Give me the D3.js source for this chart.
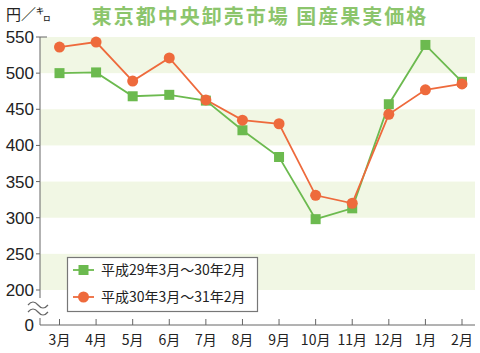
<!DOCTYPE html>
<html lang="ja">
<head>
<meta charset="UTF-8">
<title>東京都中央卸売市場 国産果実価格</title>
<script src="https://d3js.org/d3.v7.min.js"></script>
<style>
  body { margin: 0; background: #fff; }
  svg text { font-family: "Noto Sans CJK JP", "Noto Sans", sans-serif; }
  .num { font-family: "Liberation Sans", Arial, sans-serif; }
</style>
</head>
<body>
<div id="chart"></div>
<script>
// data
const months = ["3月", "4月", "5月", "6月", "7月", "8月", "9月", "10月", "11月", "12月", "1月", "2月"];
const seriesNames = ["平成29年3月～30年2月", "平成30年3月～31年2月"];
const pricesH29 = [500, 501, 468, 470, 462, 421, 384, 298, 313, 457, 539, 488];
const pricesH30 = [536, 543, 489, 521, 463, 435, 430, 331, 320, 443, 477, 485];
const yTicks = [200, 250, 300, 350, 400, 450, 500, 550];

const W = 480, H = 353;
const green = "#6cba4f", orange = "#ee6a3c", band = "#f1f7e4";
const plotL = 40, plotR = 475, plotT = 37, bottomY = 325;

const svg = d3.select("#chart").append("svg")
  .attr("width", W).attr("height", H);

const y = d3.scaleLinear().domain([200, 550]).range([290, plotT]);
const x = d3.scalePoint().domain(months).range([59.5, 462]);

// alternating bands
[[500, 550], [400, 450], [300, 350], [200, 250]].forEach(([a, b]) => {
  svg.append("rect")
    .attr("x", plotL).attr("y", y(b))
    .attr("width", plotR - plotL).attr("height", y(a) - y(b))
    .attr("fill", band);
});

// title
svg.append("text")
  .attr("x", 260).attr("y", 24)
  .attr("text-anchor", "middle")
  .attr("font-size", 20).attr("font-weight", "bold")
  .attr("letter-spacing", 2)
  .attr("fill", "#8cc56c")
  .text("東京都中央卸売市場 国産果実価格");

svg.append("text")
  .attr("x", 6).attr("y", 20)
  .attr("font-size", 15).attr("fill", "#222")
  .text("円／㌔");

// left axis
const axisColor = "#666";
svg.append("line").attr("x1", plotL).attr("x2", plotL)
  .attr("y1", plotT).attr("y2", 298).attr("stroke", axisColor);
svg.append("line").attr("x1", plotL).attr("x2", plotL)
  .attr("y1", 318).attr("y2", bottomY).attr("stroke", axisColor);
svg.append("line").attr("x1", plotL).attr("x2", plotL + 7)
  .attr("y1", plotT).attr("y2", plotT).attr("stroke", axisColor);

// axis break waves
[304, 311].forEach(cy => {
  svg.append("path")
    .attr("d", `M28,${cy + 1} q5,-6 10,0 t10,0`)
    .attr("fill", "none").attr("stroke", axisColor).attr("stroke-width", 1.2);
});

yTicks.forEach(v => {
  svg.append("line").attr("x1", plotL - 4).attr("x2", plotL)
    .attr("y1", y(v)).attr("y2", y(v)).attr("stroke", axisColor);
  svg.append("text").attr("class", "num")
    .attr("x", 34).attr("y", y(v) + 6)
    .attr("text-anchor", "end").attr("font-size", 17).attr("fill", "#222")
    .text(v);
});
svg.append("text").attr("class", "num")
  .attr("x", 34).attr("y", bottomY + 6)
  .attr("text-anchor", "end").attr("font-size", 17).attr("fill", "#222")
  .text(0);

// bottom axis
svg.append("line").attr("x1", plotL).attr("x2", plotR)
  .attr("y1", bottomY).attr("y2", bottomY).attr("stroke", axisColor);
months.forEach(m => {
  svg.append("line").attr("x1", x(m)).attr("x2", x(m))
    .attr("y1", bottomY - 6).attr("y2", bottomY).attr("stroke", axisColor);
  svg.append("text")
    .attr("x", x(m)).attr("y", bottomY + 20)
    .attr("text-anchor", "middle").attr("font-size", 14).attr("fill", "#222")
    .text(m);
});

// lines
const line = d3.line().x((d, i) => x(months[i])).y(d => y(d));
svg.append("path").datum(pricesH29).attr("d", line)
  .attr("fill", "none").attr("stroke", green).attr("stroke-width", 1.8);
svg.append("path").datum(pricesH30).attr("d", line)
  .attr("fill", "none").attr("stroke", orange).attr("stroke-width", 1.8);

svg.selectAll(".sq").data(pricesH29).enter().append("rect")
  .attr("x", (d, i) => x(months[i]) - 5).attr("y", d => y(d) - 5)
  .attr("width", 10).attr("height", 10).attr("fill", green);
svg.selectAll(".ci").data(pricesH30).enter().append("circle")
  .attr("cx", (d, i) => x(months[i])).attr("cy", d => y(d))
  .attr("r", 5.5).attr("fill", orange);

// legend
const lg = svg.append("g");
lg.append("rect").attr("x", 67.5).attr("y", 257.5)
  .attr("width", 190).attr("height", 54)
  .attr("fill", "#fff").attr("stroke", "#777").attr("stroke-width", 1.2);
[[green, "sq", 270], [orange, "ci", 297]].forEach(([c, kind, ly], i) => {
  lg.append("line").attr("x1", 73).attr("x2", 94).attr("y1", ly).attr("y2", ly)
    .attr("stroke", c).attr("stroke-width", 1.8);
  if (kind === "sq") {
    lg.append("rect").attr("x", 78.5).attr("y", ly - 5).attr("width", 10).attr("height", 10).attr("fill", c);
  } else {
    lg.append("circle").attr("cx", 83.5).attr("cy", ly).attr("r", 5.5).attr("fill", c);
  }
  lg.append("text").attr("x", 101).attr("y", ly + 5)
    .attr("font-size", 14).attr("fill", "#222")
    .text(seriesNames[i]);
});
</script>
</body>
</html>
